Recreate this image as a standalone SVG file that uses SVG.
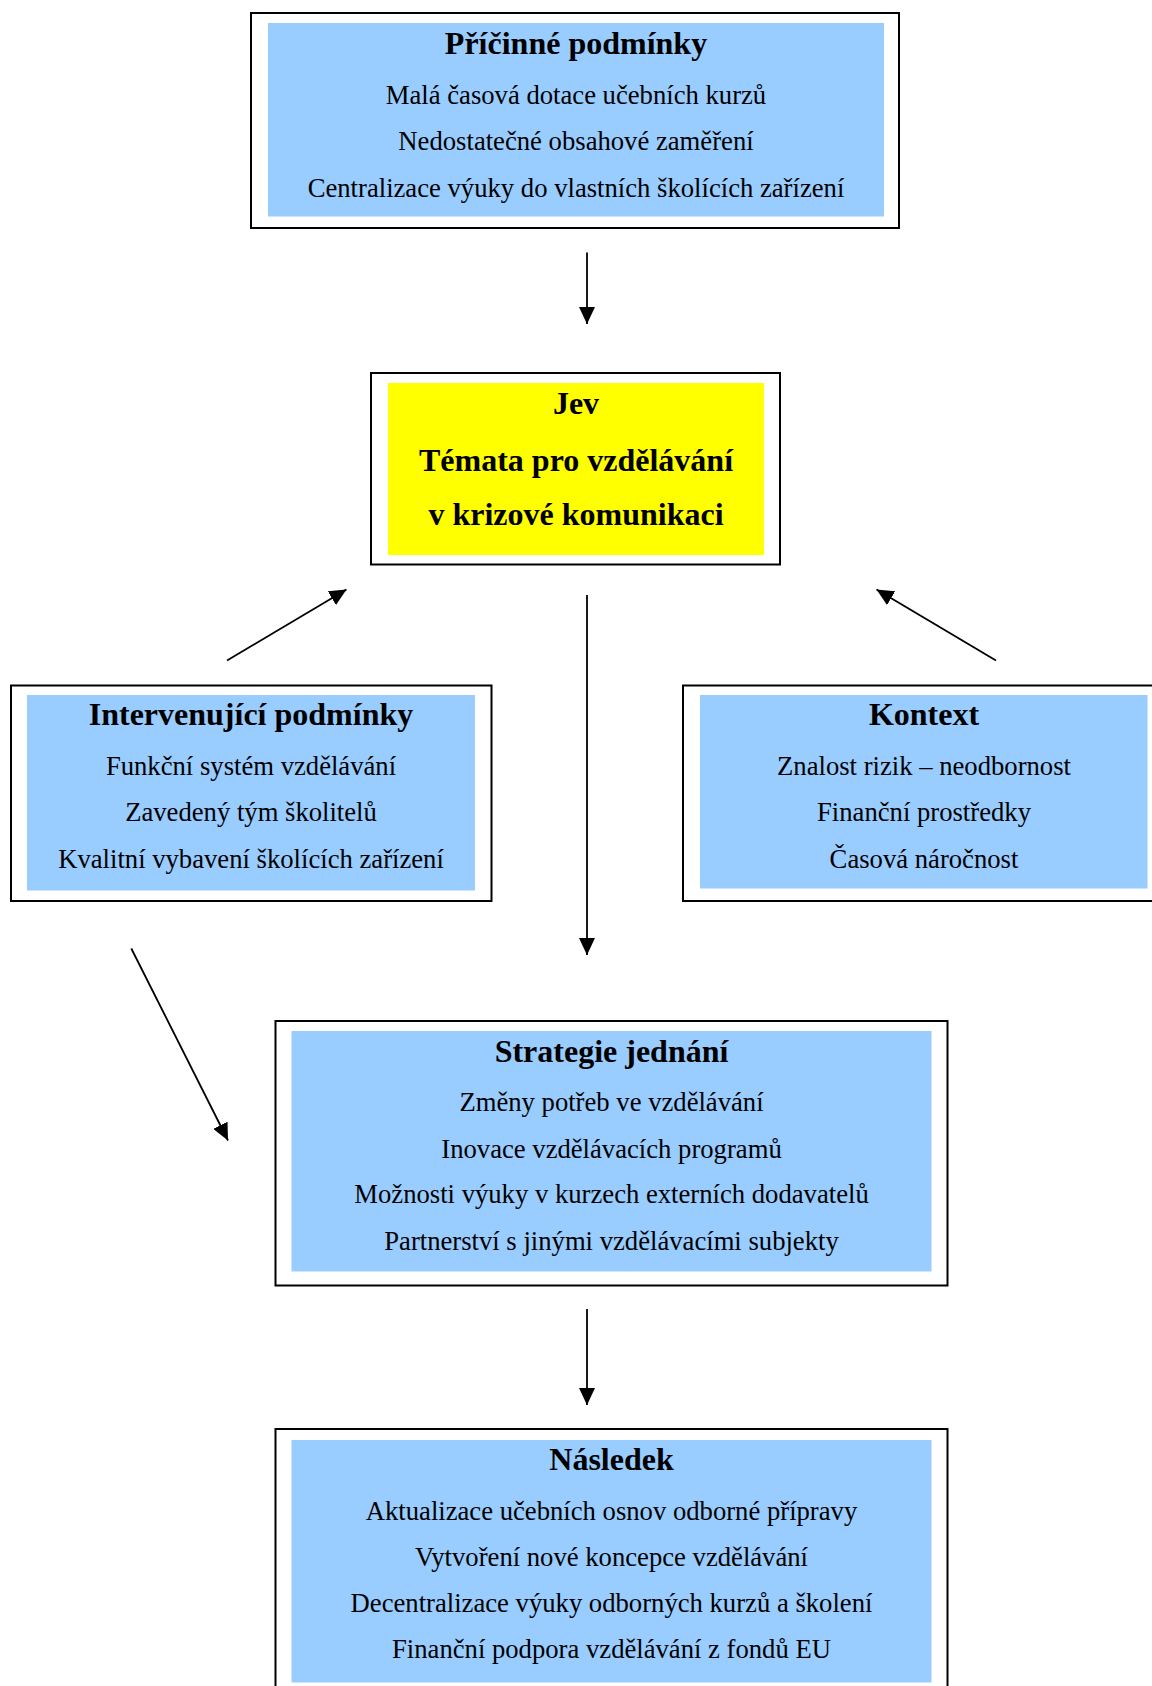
<svg xmlns="http://www.w3.org/2000/svg" width="1152" height="1686" viewBox="0 0 1152 1686">
  <style>
    .frame { fill: #ffffff; stroke: #000000; stroke-width: 2; }
    .blue { fill: #99ccff; }
    .yellow { fill: #ffff00; }
    text { font-family: "Liberation Serif", "Times New Roman", serif; fill: #000000; text-anchor: middle; }
    .title { font-size: 32px; font-weight: bold; }
    .item { font-size: 26.67px; }
    .conn { stroke: #000000; stroke-width: 1.8; fill: none; marker-end: url(#ah); }
  </style>
  <defs>
    <marker id="ah" markerWidth="17" markerHeight="16" refX="17" refY="8" orient="auto" markerUnits="userSpaceOnUse">
      <path d="M0,0 L17,8 L0,16 z" fill="#000000"/>
    </marker>
  </defs>
  <rect width="1152" height="1686" fill="#ffffff"/>

  <g id="pricinne-podminky">
    <rect class="frame" x="251" y="13" width="648" height="215"/>
    <rect class="blue" x="268" y="23" width="616" height="193.5"/>
    <text class="title" x="576" y="54">Příčinné podmínky</text>
    <text class="item" x="576" y="104">Malá časová dotace učebních kurzů</text>
    <text class="item" x="576" y="150.3">Nedostatečné obsahové zaměření</text>
    <text class="item" x="576" y="196.5">Centralizace výuky do vlastních školících zařízení</text>
  </g>

  <g id="jev">
    <rect class="frame" x="371" y="373" width="409" height="191.5"/>
    <rect class="yellow" x="388" y="383" width="376" height="172"/>
    <text class="title" x="576" y="413.8">Jev</text>
    <text class="title" x="576" y="470.5">Témata pro vzdělávání</text>
    <text class="title" x="576" y="524.8">v krizové komunikaci</text>
  </g>

  <g id="intervenujici-podminky">
    <rect class="frame" x="11" y="685.5" width="480.5" height="215.5"/>
    <rect class="blue" x="27" y="695" width="448" height="195.5"/>
    <text class="title" x="251" y="725">Intervenující podmínky</text>
    <text class="item" x="251" y="775.3">Funkční systém vzdělávání</text>
    <text class="item" x="251" y="821.3">Zavedený tým školitelů</text>
    <text class="item" x="251" y="868">Kvalitní vybavení školících zařízení</text>
  </g>

  <g id="kontext">
    <rect class="frame" x="683" y="685.5" width="480" height="215.5"/>
    <rect class="blue" x="700" y="695" width="447.5" height="193.5"/>
    <text class="title" x="924" y="725">Kontext</text>
    <text class="item" x="924" y="775.3">Znalost rizik – neodbornost</text>
    <text class="item" x="924" y="821.3">Finanční prostředky</text>
    <text class="item" x="924" y="868">Časová náročnost</text>
  </g>

  <g id="strategie-jednani">
    <rect class="frame" x="275.5" y="1021" width="672" height="264.5"/>
    <rect class="blue" x="291.5" y="1031" width="640" height="240.5"/>
    <text class="title" x="611.5" y="1062.2">Strategie jednání</text>
    <text class="item" x="611.5" y="1111.2">Změny potřeb ve vzdělávání</text>
    <text class="item" x="611.5" y="1157.7">Inovace vzdělávacích programů</text>
    <text class="item" x="611.5" y="1203">Možnosti výuky v kurzech externích dodavatelů</text>
    <text class="item" x="611.5" y="1249.5">Partnerství s jinými vzdělávacími subjekty</text>
  </g>

  <g id="nasledek">
    <rect class="frame" x="275.5" y="1429" width="672" height="271"/>
    <rect class="blue" x="291.5" y="1440" width="640" height="242.5"/>
    <text class="title" x="611.5" y="1470">Následek</text>
    <text class="item" x="611.5" y="1519.5">Aktualizace učebních osnov odborné přípravy</text>
    <text class="item" x="611.5" y="1566.2">Vytvoření nové koncepce vzdělávání</text>
    <text class="item" x="611.5" y="1612">Decentralizace výuky odborných kurzů a školení</text>
    <text class="item" x="611.5" y="1658">Finanční podpora vzdělávání z fondů EU</text>
  </g>

  <g id="connectors">
    <line class="conn" x1="587" y1="252.5" x2="587" y2="324"/>
    <line class="conn" x1="587" y1="595" x2="587" y2="955"/>
    <line class="conn" x1="227" y1="660.5" x2="346.5" y2="589.5"/>
    <line class="conn" x1="996" y1="660.5" x2="876.5" y2="589.5"/>
    <line class="conn" x1="131.3" y1="948.5" x2="228" y2="1140.5"/>
    <line class="conn" x1="587" y1="1309" x2="587" y2="1405"/>
  </g>
</svg>
